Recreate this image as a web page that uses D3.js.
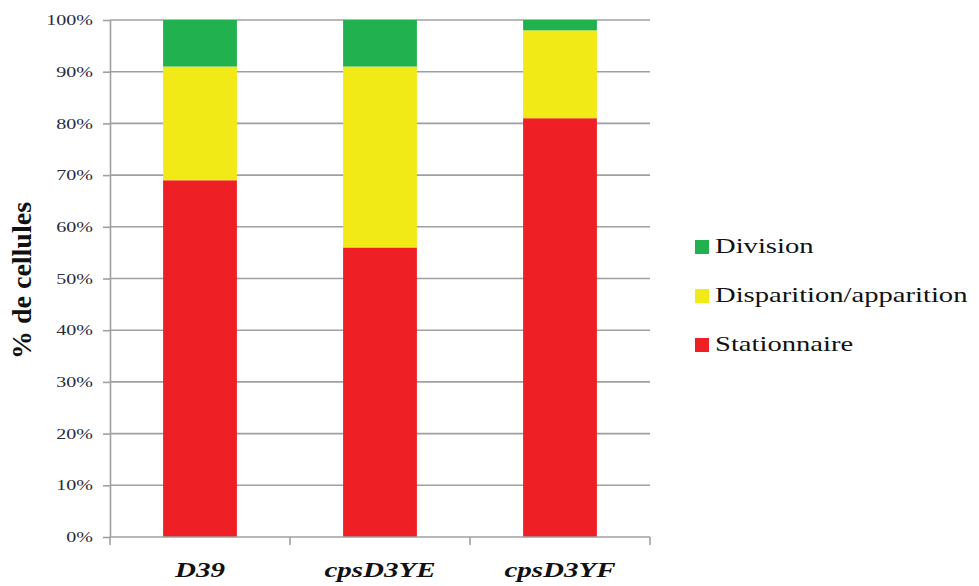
<!DOCTYPE html>
<html>
<head>
<meta charset="utf-8">
<script src="https://cdn.jsdelivr.net/npm/d3@7"></script>
<style>
  html, body { margin: 0; padding: 0; background: #fff; }
  svg { display: block; }
  svg text { font-family: "Liberation Serif", "Times New Roman", Times, serif; }
</style>
</head>
<body>
<svg id="chart" width="979" height="586"></svg>
<script>
// Cell behaviour per strain, in percent of cells
const categories = ["D39", "cpsD3YE", "cpsD3YF"];
const stationnaire = [69, 56, 81];
const disparition = [22, 35, 17];
const division = [9, 9, 2];
const seriesNames = ["Stationnaire", "Disparition/apparition", "Division"];
const seriesColors = ["#ee1f25", "#f1ea16", "#21b14e"];
const yTicks = [0, 10, 20, 30, 40, 50, 60, 70, 80, 90, 100];

const rows = categories.map((c, i) => ({
  cat: c,
  "Stationnaire": stationnaire[i],
  "Disparition/apparition": disparition[i],
  "Division": division[i]
}));

const serif = '"Liberation Serif", "Times New Roman", Times, serif';
const svg = d3.select("#chart");
const m = { left: 110, right: 329, top: 20, bottom: 49 };
const W = 979, H = 586;
const wide = 1.32;   // horizontally widened lettering

const x = d3.scaleBand().domain(categories).range([m.left, W - m.right]).paddingInner(0.59).paddingOuter(0.295);
const xTickScale = d3.scaleBand().domain(categories).range([m.left, W - m.right]);
const y = d3.scaleLinear().domain([0, 100]).range([H - m.bottom, m.top]);

const grid = "#a0a0a0";

// horizontal gridlines
svg.append("g").selectAll("line").data(yTicks.slice(1)).join("line")
  .attr("x1", m.left).attr("x2", W - m.right)
  .attr("y1", d => y(d)).attr("y2", d => y(d))
  .attr("stroke", grid).attr("stroke-width", 1.6);

// stacked bars
const stack = d3.stack().keys(seriesNames)(rows);
svg.append("g").selectAll("g").data(stack).join("g")
  .attr("fill", (d, i) => seriesColors[i])
  .selectAll("rect").data(d => d).join("rect")
  .attr("x", d => x(d.data.cat))
  .attr("width", x.bandwidth())
  .attr("y", d => y(d[1]))
  .attr("height", d => y(d[0]) - y(d[1]));

// y axis
const yAxis = svg.append("g").attr("transform", `translate(${m.left},0)`)
  .call(d3.axisLeft(y).tickValues(yTicks).tickFormat(d => d + "%").tickSize(7).tickSizeOuter(0));
yAxis.attr("font-family", null).attr("font-size", null);
yAxis.select(".domain").attr("stroke", grid).attr("stroke-width", 1.6);
yAxis.selectAll(".tick line").attr("stroke", grid).attr("stroke-width", 1.6);
yAxis.selectAll(".tick text")
  .attr("x", null)
  .attr("transform", `translate(-17,0) scale(1.38,1)`)
  .style("font-family", serif)
  .style("font-size", "14.5px").attr("fill", "#2b2b3a");

// x axis baseline and category separators
const xAxisG = svg.append("g").attr("transform", `translate(0,${y(0)})`);
xAxisG.append("line").attr("x1", m.left).attr("x2", W - m.right)
  .attr("stroke", grid).attr("stroke-width", 1.6);
const seps = categories.map(c => xTickScale(c)).concat([W - m.right]);
xAxisG.selectAll("line.sep").data(seps).join("line").attr("class", "sep")
  .attr("x1", d => d).attr("x2", d => d).attr("y1", 0).attr("y2", 8)
  .attr("stroke", grid).attr("stroke-width", 1.6);
xAxisG.selectAll("text").data(categories).join("text")
  .attr("transform", d => `translate(${x(d) + x.bandwidth() / 2},40) scale(${wide},1)`)
  .attr("text-anchor", "middle")
  .style("font-family", serif)
  .style("font-size", "22px").style("font-weight", "bold").style("font-style", "italic")
  .attr("fill", "#111")
  .text(d => d);

// y axis title
svg.append("text")
  .attr("transform", `translate(31,${(y(0) + y(100)) / 2 + 2}) rotate(-90)`)
  .attr("text-anchor", "middle")
  .style("font-family", serif)
  .style("font-size", "28px").style("font-weight", "bold").attr("fill", "#111")
  .text("% de cellules");

// legend (top-to-bottom order reverses the stack)
const legendItems = seriesNames.map((n, i) => ({ name: n, color: seriesColors[i] })).reverse();
const lg = svg.append("g").attr("transform", "translate(695,240)");
const li = lg.selectAll("g").data(legendItems).join("g")
  .attr("transform", (d, i) => `translate(0,${i * 49})`);
li.append("rect").attr("width", 14).attr("height", 14).attr("fill", d => d.color);
li.append("text").attr("transform", `translate(20,13) scale(1.3,1)`)
  .style("font-family", serif)
  .style("font-size", "22px").attr("fill", "#111")
  .text(d => d.name);
</script>
</body>
</html>
